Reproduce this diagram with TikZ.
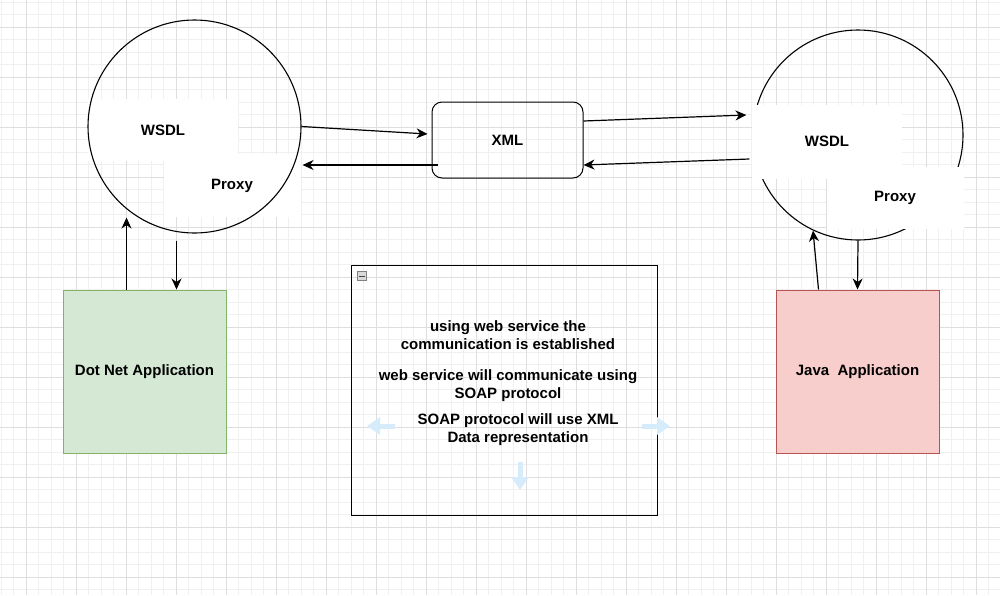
\documentclass[tikz,border=0pt]{standalone}
\usepackage{fontspec}
\setmainfont{Liberation Sans}
\usetikzlibrary{arrows.meta}
\usetikzlibrary{calc}
\definecolor{gridminor}{HTML}{F0F0F0}
\definecolor{gridmajor}{HTML}{DEDEDE}
\definecolor{dotnetfill}{HTML}{D5E8D4}
\definecolor{dotnetdraw}{HTML}{82B366}
\definecolor{javafill}{HTML}{F8CECC}
\definecolor{javadraw}{HTML}{B85450}
\definecolor{hintblue}{HTML}{D6ECFA}
\tikzset{
  big font/.style={
    font=\bfseries\fontsize{15}{18}\selectfont,
  }
}
\tikzset{
  app node/.style={
    rectangle,
    draw,
    line width=1pt,
    minimum width=163pt,
    minimum height=163pt,
    big font,
  }
}
\tikzset{
  label node/.style={
    rectangle,
    fill=white,
    inner sep=0pt,
    big font,
  }
}
\tikzset{
  service node/.style={
    circle,
    draw,
    line width=1.1pt,
    inner sep=0pt,
  }
}
\tikzset{
  hint arrow/.style={
    hintblue,
    line width=5pt,
    -{Triangle[length=13pt,width=17pt]},
  }
}

\begin{document}
\begin{tikzpicture}[
    x=1pt,
    y=-1pt,
    >={Stealth[length=11pt,width=10pt,inset=3.5pt]},
    ]

    \useasboundingbox (0,0) rectangle (1000,595);
    \fill[white] (0,0) rectangle (1000,595);

    % grid
    \foreach \x in {1,13.5,...,1000}{
      \draw[gridminor, line width=0.8pt] (\x,0) -- (\x,595);
    }
    \foreach \y in {2,14.5,...,595}{
      \draw[gridminor, line width=0.8pt] (0,\y) -- (1000,\y);
    }
    \foreach \x in {26,76,...,1000}{
      \draw[gridmajor, line width=0.8pt] (\x,0) -- (\x,595);
    }
    \foreach \y in {27,77,...,595}{
      \draw[gridmajor, line width=0.8pt] (0,\y) -- (1000,\y);
    }

    % dot net side
    \node[label node, minimum width=150pt, minimum height=62pt]
      (lwsdl) at (163,130) {WSDL};
    \node[label node, minimum width=137pt, minimum height=63pt]
      (lproxy) at (232,185.5) {Proxy};
    \node[service node, minimum size=213pt] (lcirc) at (194.5,126.5) {};

    % java side
    \node[service node, minimum size=210pt] (rcirc) at (858,135) {};
    \node[label node, minimum width=150pt, minimum height=74pt]
      (rwsdl) at (827,141.5) {WSDL};
    \node[label node, minimum width=137pt, minimum height=62pt]
      (rproxy) at (895,197.5) {Proxy};

    \node[draw, rectangle, rounded corners=10pt, line width=1pt,
      minimum width=151pt, minimum height=76pt, big font]
      (xml) at (507.5,140) {\raisebox{-1.5pt}{XML}};

    \node[app node, fill=dotnetfill, draw=dotnetdraw]
      (dotnet) at (144.5,371.5) {\raisebox{-1.5pt}{Dot Net Application}};
    \node[app node, fill=javafill, draw=javadraw]
      (java) at (857.5,371.5) {\raisebox{-1.5pt}{Java\ \ Application}};

    \draw[->, line width=1.2pt] (lcirc.east) -- ($(xml.west)+(-4,-6)$);
    \draw[->, line width=1.2pt] ($(xml.west)+(6,25)$) -- ($(lcirc.east)+(1,38.5)$);
    \draw[->, line width=1.2pt] ($(xml.east)+(0,-19)$) -- ($(rcirc.west)+(-6,-20)$);
    \draw[->, line width=1.2pt] ($(rcirc.west)+(-3,24)$) -- ($(xml.east)+(0,25)$);

    \draw[->, line width=1.2pt] ($(dotnet.north)+(-18,0)$) -- ($(lcirc.south)+(-68,-16)$);
    \draw[->, line width=1.2pt] ($(lcirc.south)+(-18,7)$) -- ($(dotnet.north)+(32,0)$);
    \draw[->, line width=1.2pt] ($(java.north)+(-39,0)$) -- ($(rcirc.south)+(-45,-10)$);
    \draw[->, line width=1.2pt] (rcirc.south) -- ($(java.north)+(0,0)$);

    % note
    \node[draw, rectangle, line width=1pt, minimum width=306pt, minimum height=250pt]
      (note) at (504,390) {};
    \node[draw=gray, fill=black!15, minimum size=9pt, inner sep=0pt]
      (fold) at ($(note.north west)+(11.5,11.5)$) {};
    \draw[black!75, line width=1pt] ($(fold.center)+(-3,0)$) -- ($(fold.center)+(3,0)$);

    \node[big font, align=center] (t1) at (508,335.5)
      {using web service the\\communication is established};
    \node[big font, align=center] (t2) at (508,386)
      {web service will communicate using\\SOAP protocol};
    \node[big font, align=center] (t3) at (518,429.5)
      {SOAP protocol will use XML\\Data representation};

    \draw[hint arrow] (395,426) -- (367,426);
    \draw[hint arrow] (642,426) -- (670,426);
    \draw[hint arrow] (520,462) -- (520,490);

  \end{tikzpicture}
\end{document}
